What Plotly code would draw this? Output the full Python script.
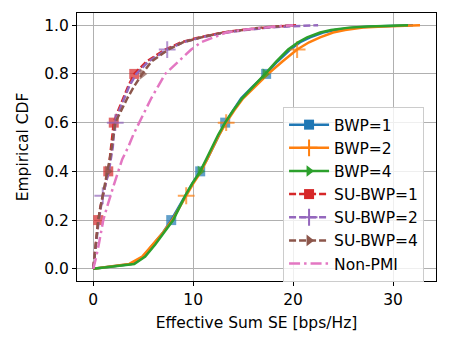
import plotly.graph_objects as go

# CDF levels shared by all curves
cdf = [0, 0.02, 0.05, 0.1, 0.15, 0.2, 0.25, 0.3, 0.35, 0.4, 0.45, 0.5, 0.55,
       0.6, 0.65, 0.7, 0.75, 0.8, 0.85, 0.9, 0.93, 0.95, 0.97, 0.98, 0.99,
       0.995, 1.0]

# Effective sum SE [bps/Hz] at each CDF level
bwp1 = [0, 3.8, 5.0, 6.0, 7.0, 7.8, 8.5, 9.2, 9.9, 10.7, 11.4, 12.0, 12.6,
        13.2, 14.0, 14.8, 16.0, 17.3, 18.4, 19.7, 20.7, 21.7, 23.0, 24.2,
        26.0, 28.0, 32.0]
bwp2 = [0, 3.6, 4.9, 6.0, 7.0, 7.9, 8.6, 9.3, 10.0, 10.8, 11.4, 12.0, 12.6,
        13.3, 14.1, 15.0, 16.2, 17.5, 18.9, 20.4, 21.6, 22.7, 24.0, 25.2,
        27.0, 29.0, 32.7]
bwp4 = [0, 4.1, 5.2, 6.2, 7.1, 8.0, 8.6, 9.2, 9.9, 10.7, 11.3, 11.9, 12.5,
        13.2, 14.0, 14.9, 16.1, 17.2, 18.3, 19.5, 20.5, 21.4, 22.7, 23.8,
        25.6, 27.5, 31.5]
su_bwp1 = [0, 0.05, 0.1, 0.2, 0.35, 0.5, 0.7, 0.95, 1.2, 1.5, 1.65, 1.8, 1.9,
           2.05, 2.5, 3.0, 3.5, 4.1, 5.3, 7.2, 8.8, 10.6, 13.0, 14.8, 17.0,
           18.5, 20.3]
su_bwp2 = [0, 0.05, 0.1, 0.25, 0.4, 0.55, 0.75, 0.95, 1.25, 1.55, 1.75, 1.95,
           2.05, 2.2, 2.6, 3.1, 3.6, 4.3, 5.5, 7.4, 9.0, 10.8, 13.3, 15.2,
           17.5, 19.5, 22.5]
su_bwp4 = [0, 0.05, 0.1, 0.2, 0.35, 0.5, 0.7, 0.95, 1.2, 1.45, 1.65, 1.85,
           2.0, 2.2, 2.8, 3.4, 4.1, 4.9, 5.8, 7.5, 9.0, 10.8, 13.0, 14.8,
           16.8, 18.3, 20.0]
non_pmi = [0, 0.15, 0.3, 0.55, 0.75, 1.0, 1.35, 1.7, 2.1, 2.5, 2.9, 3.5, 4.0,
           4.6, 5.2, 5.8, 6.5, 7.2, 8.5, 9.8, 10.8, 12.0, 13.3, 14.8, 16.8,
           18.3, 20.0]

names = ['BWP=1', 'BWP=2', 'BWP=4', 'SU-BWP=1', 'SU-BWP=2', 'SU-BWP=4',
         'Non-PMI']
series = [bwp1, bwp2, bwp4, su_bwp1, su_bwp2, su_bwp4, non_pmi]
colors = ['#1f77b4', '#ff7f0e', '#2ca02c', '#d62728', '#9467bd', '#8c564b',
          '#e377c2']
symbols = ['square', 'cross-thin', 'triangle-right'] * 2 + [None]
dashes = ['solid'] * 3 + ['7px,3px'] * 3 + ['11px,4px,2.5px,4px']
# CDF levels where a marker is drawn
mark_levels = [[0.2, 0.4, 0.6, 0.8], [0.3, 0.6, 0.9], [0.4, 0.8]] * 2 + [[]]

FS = 15.5

fig = go.Figure()
for name, xs, col, sym, dash, levels in zip(names, series, colors, symbols,
                                             dashes, mark_levels):
    sizes = [10 if y in levels else 0 for y in cdf]
    if sym == 'cross-thin':
        sizes = [s + 2 if s else 0 for s in sizes]
    marker = dict(symbol=sym, size=sizes, color=col,
                  line=dict(color=col, width=2 if sym == 'cross-thin' else 0))
    fig.add_trace(go.Scatter(
        x=xs, y=cdf, mode='lines+markers' if sym else 'lines',
        line=dict(color=col, width=2.5, dash=dash),
        marker=marker if sym else None, showlegend=False))
    # legend entry
    lm = dict(symbol=sym, size=12 if sym == 'cross-thin' else 10, color=col,
              line=dict(color=col, width=2 if sym == 'cross-thin' else 0))
    fig.add_trace(go.Scatter(
        x=[None], y=[None], name=name,
        mode='lines+markers' if sym else 'lines',
        line=dict(color=col, width=2.5, dash=dash),
        marker=lm if sym else None))

axis_style = dict(showline=True, mirror=True, linecolor='black', linewidth=1,
                  ticks='outside', ticklen=4, tickcolor='black',
                  showgrid=True, gridcolor='#b0b0b0', gridwidth=1,
                  zeroline=False, automargin=False,
                  tickfont=dict(size=FS, color='black'))

# page body adds an 8px offset, so the figure is 8px smaller than the window
fig.update_layout(
    width=442, height=341,
    margin=dict(l=69, r=14, t=5, b=68),
    paper_bgcolor='white', plot_bgcolor='white',
    font=dict(family='DejaVu Sans', size=FS, color='black'),
    xaxis=dict(range=[-1.63, 34.3], tickvals=[0, 10, 20, 30],
               title=dict(text='Effective Sum SE [bps/Hz]', standoff=9,
                          font=dict(size=FS)),
               **axis_style),
    yaxis=dict(range=[-0.05, 1.05], tickvals=[0, 0.2, 0.4, 0.6, 0.8, 1.0],
               tickformat='.1f',
               title=dict(text='Empirical CDF', standoff=11,
                          font=dict(size=FS)),
               **axis_style),
    legend=dict(x=0.574, y=0.649, xanchor='left', yanchor='top',
                bgcolor='rgba(255,255,255,0.8)', bordercolor='#cccccc',
                borderwidth=1, itemwidth=40, font=dict(size=FS)),
)

fig.write_html('out.html')
